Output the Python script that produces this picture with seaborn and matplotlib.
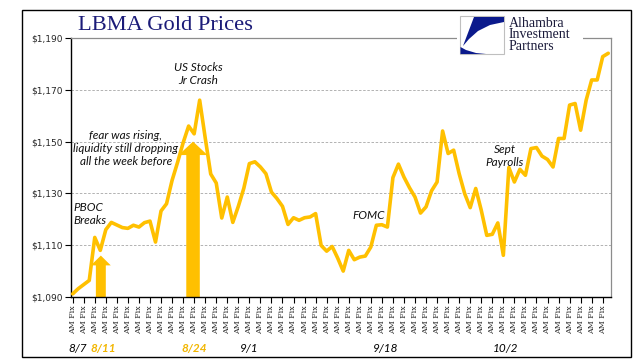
import matplotlib
matplotlib.use("Agg")
import matplotlib.pyplot as plt
from matplotlib.patches import FancyArrow, Rectangle, Polygon
import pandas as pd
import seaborn as sns

# LBMA gold fixes (AM / PM alternating), 8/7 .. mid-October
prices = [
    1091.2, 1093.2, 1094.8, 1096.4, 1113.0, 1108.0, 1116.0, 1118.8, 1117.8, 1116.8,
    1116.5, 1117.7, 1117.0, 1118.7, 1119.3, 1111.2, 1123.2, 1126.0, 1135.0, 1142.0,
    1149.5, 1156.0, 1153.0, 1166.0, 1151.5, 1137.5, 1134.0, 1120.5, 1128.6, 1118.8,
    1125.0, 1132.0, 1141.5, 1142.2, 1140.2, 1137.6, 1130.5, 1128.0, 1125.0, 1118.0,
    1120.6, 1119.6, 1120.6, 1120.9, 1122.2, 1109.9, 1107.7, 1109.5, 1105.0, 1100.0,
    1108.0, 1104.4, 1105.4, 1105.8, 1109.3, 1117.7, 1117.9, 1117.0, 1136.1, 1141.3,
    1136.3, 1132.2, 1128.6, 1122.4, 1124.8, 1131.0, 1134.4, 1154.1, 1145.4, 1146.7,
    1137.6, 1129.9, 1124.5, 1131.9, 1123.5, 1113.8, 1114.2, 1118.6, 1106.1, 1140.0,
    1134.4, 1139.3, 1137.0, 1147.3, 1147.7, 1144.4, 1143.1, 1140.2, 1151.2, 1151.2,
    1164.1, 1164.7, 1154.4, 1166.0, 1173.8, 1173.8, 1182.8, 1184.1,
]
fix_labels = ["AM Fix", "PM Fix"] * (len(prices) // 2)

y_ticks = [1090, 1110, 1130, 1150, 1170, 1190]

date_labels = ["8/7", "8/11", "8/24", "9/1", "9/18", "10/2"]
date_pos = [1, 5.6, 22, 32, 56.6, 78.4]
date_colors = ["black", "#F2B600", "#F2B600", "black", "black", "black"]
date_weights = ["normal", "bold", "bold", "normal", "normal", "normal"]

notes = ["US Stocks\nJr Crash",
         "fear was rising,\nliquidity still dropping\nall the week before",
         "PBOC\nBreaks", "FOMC", "Sept\nPayrolls"]
note_x = [22.7, 9.6, 0.2, 53.7, 78.3]
note_y = [1176.0, 1147.4, 1121.9, 1121.5, 1144.5]
note_ha = ["center", "center", "left", "center", "center"]

gold = "#FFC000"

sns.set_style("white")
plt.rcParams["font.family"] = ["Lato", "DejaVu Sans"]

fig = plt.figure(figsize=(6.41, 3.64), dpi=100)
ax = fig.add_axes([0.1108, 0.1841, 0.8424, 0.7115])

df = pd.DataFrame({"fix": range(len(prices)), "price": prices, "label": fix_labels})
sns.lineplot(data=df, x="fix", y="price", ax=ax, color=gold, lw=2.6, zorder=3)

# block arrows
ax.add_patch(FancyArrow(5.1, 1090, 0, 16, width=1.8, head_width=3.6, head_length=3.8,
                        length_includes_head=True, color=gold, lw=0, zorder=2))
ax.add_patch(FancyArrow(21.8, 1090, 0, 60, width=2.45, head_width=5.25, head_length=5.2,
                        length_includes_head=True, color=gold, lw=0, zorder=2))

ax.set_xlim(-0.3, 97.5)
ax.set_ylim(1090, 1190)
ax.set_yticks(y_ticks)
ax.set_yticklabels([f"${v:,}" for v in y_ticks], fontsize=6.5, family="DejaVu Sans")
for v in y_ticks[1:-1]:
    ax.axhline(v, color="#A6A6A6", lw=0.6, ls=(0, (3, 2)), zorder=1)

xt = list(range(0, len(prices), 2))
ax.set_xticks(xt)
ax.set_xticklabels([fix_labels[i] for i in xt], rotation=90, fontsize=5.7,
                   family="DejaVu Serif")
ax.tick_params(axis="both", direction="out", length=4, width=0.8, color="black",
               pad=2, bottom=True, left=True)
ax.set_xlabel("")
ax.set_ylabel("")

for s in ["left", "bottom"]:
    ax.spines[s].set_color("black")
    ax.spines[s].set_linewidth(1.0)
for s in ["top", "right"]:
    ax.spines[s].set_color("#8C8C8C")
    ax.spines[s].set_linewidth(0.9)

for t, x, y, ha in zip(notes, note_x, note_y, note_ha):
    ax.text(x, y, t, ha=ha, va="center", fontsize=8.5, style="italic",
            color="#111111", linespacing=1.2, zorder=4)

for t, x, c, w in zip(date_labels, date_pos, date_colors, date_weights):
    ax.text(x, -0.2, t, transform=ax.get_xaxis_transform(), ha="center",
            va="center", fontsize=8.5, style="italic", color=c, fontweight=w)

# title
fig.text(78 / 641, 1 - 25 / 364, "LBMA Gold Prices", ha="left", va="center",
         fontsize=16.2, family="Liberation Serif", color="#1B1B78")


def px(x, y):
    return (x / 641, 1 - y / 364)


# logo block
fig.patches.append(Rectangle(px(457, 58), 126 / 641, 46 / 364, transform=fig.transFigure,
                             facecolor="white", edgecolor="none", zorder=5))
fig.patches.append(Rectangle(px(460, 54), 44 / 641, 38 / 364, transform=fig.transFigure,
                             facecolor="white", edgecolor="#BFBFBF", lw=0.8, zorder=6))
fig.patches.append(Polygon([px(474, 17), px(504, 17), px(504, 22), px(490, 25),
                            px(478, 31), px(469, 39), px(463, 46)],
                           closed=True, transform=fig.transFigure,
                           facecolor="#0B1A8C", edgecolor="none", zorder=7))
fig.patches.append(Polygon([px(460.5, 54), px(460.5, 47), px(466, 50), px(476, 53),
                            px(486, 54)],
                           closed=True, transform=fig.transFigure,
                           facecolor="#0B1A8C", edgecolor="none", zorder=7))
fig.text(509 / 641, 1 - 35 / 364, "Alhambra\nInvestment\nPartners", ha="left",
         va="center", fontsize=10, family="Liberation Serif", color="#1A1A3A",
         linespacing=0.85, zorder=8)

# outer frame
fig.patches.append(Rectangle(px(22, 357), 609 / 641, 347 / 364, transform=fig.transFigure,
                             fill=False, edgecolor="black", lw=1.0, zorder=9))

fig.savefig("out.png", dpi=100)
